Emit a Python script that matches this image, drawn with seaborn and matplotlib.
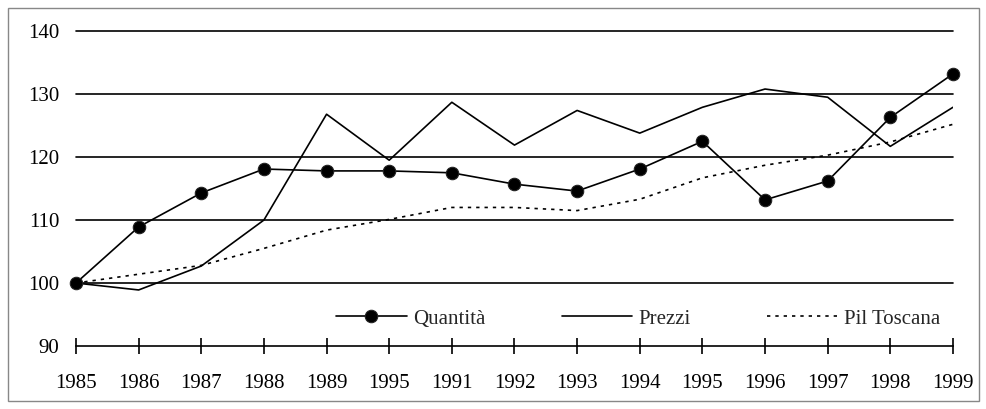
import numpy as np
import seaborn as sns
import matplotlib.pyplot as plt
from matplotlib.patches import Rectangle

anni = ["1985", "1986", "1987", "1988", "1989", "1995", "1991", "1992",
        "1993", "1994", "1995", "1996", "1997", "1998", "1999"]
quantita = [100, 108.9, 114.3, 118.1, 117.8, 117.8, 117.5, 115.7,
            114.6, 118.1, 122.5, 113.2, 116.2, 126.3, 133.2]
prezzi = [100, 98.9, 102.7, 110.0, 126.8, 119.5, 128.7, 121.9,
          127.4, 123.8, 127.9, 130.8, 129.5, 121.7, 127.9]
pil_toscana = [100, 101.4, 102.8, 105.5, 108.4, 110.1, 112.0, 112.0,
               111.5, 113.3, 116.7, 118.7, 120.3, 122.4, 125.2]

sns.set_style("white")
plt.rcParams["font.family"] = ["Liberation Serif", "DejaVu Serif"]
plt.rcParams["font.size"] = 15

fig = plt.figure(figsize=(9.87, 4.09), dpi=100)
ax = fig.add_axes([0.077, 0.154, 0.8885, 0.77])

pos = np.arange(len(anni))

# horizontal grid lines
for v in [100, 110, 120, 130, 140]:
    ax.axhline(v, color="black", lw=1.2, zorder=1, clip_on=False)

sns.lineplot(x=pos, y=quantita, ax=ax, color="black", lw=1.2,
             marker="o", markersize=9, markeredgecolor="#222222",
             markerfacecolor="black", label="Quantità", clip_on=False, zorder=4)
sns.lineplot(x=pos, y=prezzi, ax=ax, color="black", lw=1.2,
             label="Prezzi", zorder=3)
sns.lineplot(x=pos, y=pil_toscana, ax=ax, color="black", lw=1.2,
             label="Pil Toscana", zorder=3)
ax.lines[-1].set_dashes((2, 3))

ax.set_xlim(0, len(anni) - 1)
ax.set_ylim(90, 140)
ax.set_yticks([90, 100, 110, 120, 130, 140])
ax.set_xticks(pos)
ax.set_xticklabels(anni)
ax.set_xlabel("")
ax.set_ylabel("")

for s in ["top", "right", "left"]:
    ax.spines[s].set_visible(False)
ax.spines["bottom"].set_color("black")
ax.spines["bottom"].set_linewidth(1.2)
ax.tick_params(axis="x", direction="inout", length=12, width=1.2,
               pad=14, colors="black", bottom=True, labelsize=15)
ax.tick_params(axis="y", length=0, pad=12, colors="black", labelsize=15)

ax.legend(loc="center", bbox_to_anchor=(0.641, 0.086), ncol=3, frameon=False,
          handlelength=3.4, handletextpad=0.3, columnspacing=3.65,
          fontsize=15)

fig.patches.append(Rectangle((0.008, 0.02), 0.984, 0.96, transform=fig.transFigure,
                             fill=False, edgecolor="#888888", lw=1))

fig.savefig("out.png", dpi=100)
